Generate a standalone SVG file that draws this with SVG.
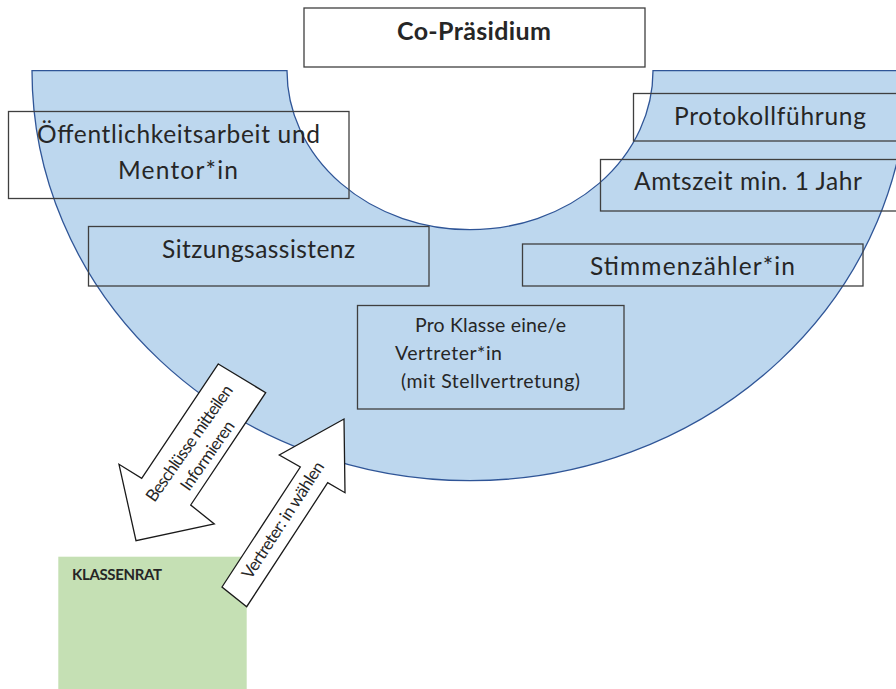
<svg xmlns="http://www.w3.org/2000/svg" width="896" height="689" viewBox="0 0 896 689">
<style>
.box{fill:none;stroke:#3f3f3f;stroke-width:1.3}
.t{font-family:Lato,"Liberation Sans",sans-serif;fill:#262626}
.big{font-size:24.5px}
.mid{font-size:19.5px}
.small{font-size:17px}
.b{font-weight:bold}
.arrow{fill:#ffffff;stroke:#1a1a1a;stroke-width:1.3;stroke-linejoin:miter}
</style>
<rect x="0" y="0" width="896" height="689" fill="#ffffff"/>
<g id="council-arc">
<path d="M 32,70.7 A 438,410 0 0 0 908,70.7 L 653,70.7 A 183,159 0 0 1 287,70.7 Z" fill="#BDD7EE" stroke="#2F5597" stroke-width="1.3"/>
</g>
<g id="co-praesidium">
<rect x="304" y="8" width="341" height="59" fill="#ffffff" stroke="#3f3f3f" stroke-width="1.3"/>
<text class="t b" x="397" y="40" font-size="25" textLength="154">Co-Präsidium</text>
</g>
<g id="oeffentlichkeitsarbeit">
<rect class="box" x="8.5" y="111.5" width="340.5" height="87"/>
<text class="t big" x="37" y="143" textLength="283">Öffentlichkeitsarbeit und</text>
<text class="t big" x="118" y="179" textLength="120">Mentor*in</text>
</g>
<g id="sitzungsassistenz">
<rect class="box" x="88.5" y="226.5" width="340.5" height="59.5"/>
<text class="t big" x="162" y="258" textLength="193">Sitzungsassistenz</text>
</g>
<g id="protokollfuehrung">
<rect class="box" x="633.5" y="93.5" width="280" height="47.5"/>
<text class="t big" x="674" y="125" textLength="192">Protokollführung</text>
</g>
<g id="amtszeit">
<rect class="box" x="600.5" y="159.5" width="310" height="51.5"/>
<text class="t big" x="634" y="190" textLength="228">Amtszeit min. 1 Jahr</text>
</g>
<g id="stimmenzaehler">
<rect class="box" x="522.5" y="244" width="340.5" height="42"/>
<text class="t big" x="590" y="275" textLength="205">Stimmenzähler*in</text>
</g>
<g id="vertreter">
<rect class="box" x="357.5" y="305.5" width="266.5" height="103.5"/>
<text class="t mid" x="415" y="332" textLength="151">Pro Klasse eine/e</text>
<text class="t mid" x="395" y="360" textLength="107">Vertreter*in</text>
<text class="t mid" x="401" y="388" textLength="179">(mit Stellvertretung)</text>
</g>
<g id="klassenrat">
<rect x="58.3" y="556.7" width="188.4" height="140" fill="#C5E0B4"/>
<text class="t b" x="72" y="580" font-size="15" textLength="90">KLASSENRAT</text>
</g>
<g id="connectors">
<g id="arrow-down">
<polygon class="arrow" points="218.3,364 265.7,392.7 190.7,505 214.3,524 136,540.7 119,464.3 141.7,478.3"/>
<g transform="translate(189.5,443.3) rotate(-55)">
<text class="t small" x="0" y="5.5" text-anchor="middle" textLength="138">Beschlüsse mitteilen</text>
<text class="t small" x="0.3" y="27.5" text-anchor="middle" textLength="81">Informieren</text>
</g>
</g>
<g id="arrow-up">
<polygon class="arrow" points="222,587 300.3,467 279.3,455 344,419 345,492.7 327.7,482.7 246.7,606.7"/>
<g transform="translate(282.8,520) rotate(-57)">
<text class="t small" x="0" y="6" text-anchor="middle" textLength="136">Vertreter: in wählen</text>
</g>
</g>
</g>
</svg>
